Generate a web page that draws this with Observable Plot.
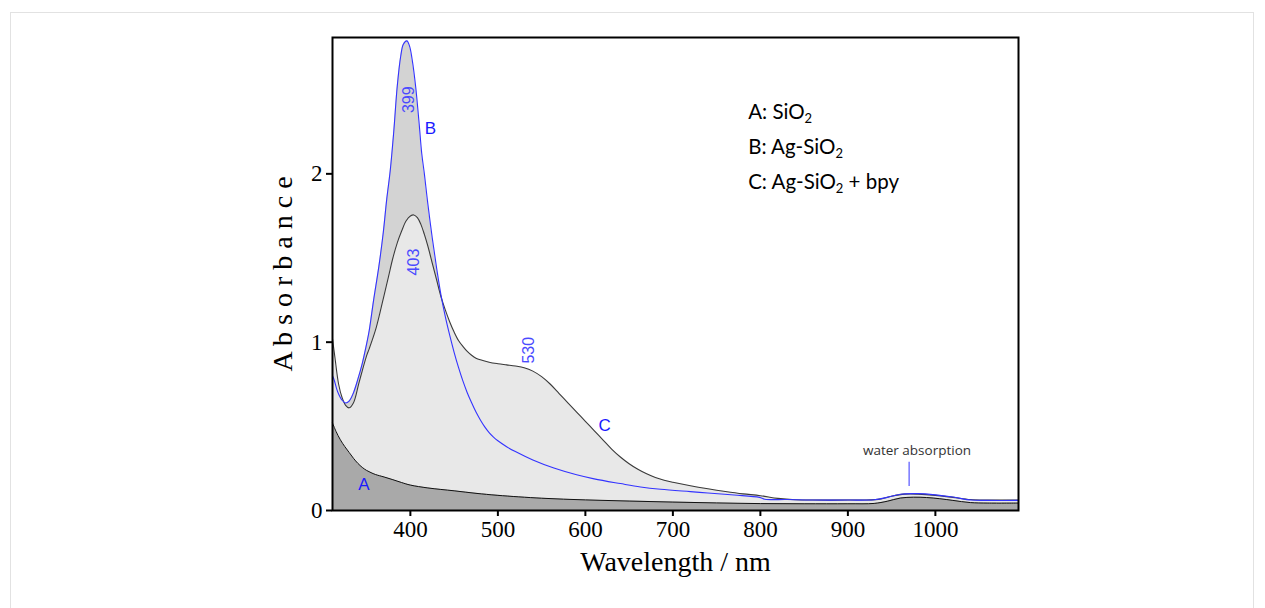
<!DOCTYPE html>
<html><head><meta charset="utf-8">
<script src="https://cdn.jsdelivr.net/npm/d3@7"></script>
<script src="https://cdn.jsdelivr.net/npm/@observablehq/plot@0.6"></script>
<style>
body{margin:0;background:#fff;}
#wrap{position:relative;width:1265px;height:608px;overflow:hidden;}
#border{position:absolute;left:10px;top:12px;width:1244px;height:700px;border:1px solid #e2e2e2;box-sizing:border-box;}
#chart{position:absolute;left:0;top:0;}
#chart g[aria-label="x-axis tick label"], #chart g[aria-label="y-axis tick label"]{font-size:23px;}
</style>
</head><body><div id="wrap"><div id="border"></div><div id="chart"></div></div>
<script>
// Series A: SiO2
const wlA  = [311,315,320,325,330,335,340,345,350,355,360,370,380,390,400,420,450,475,500,550,600,650,700,750,800,850,900,930,945,960,975,990,1005,1020,1040,1060,1095];
const absA = [0.52,0.47,0.42,0.38,0.345,0.31,0.28,0.256,0.238,0.225,0.214,0.199,0.183,0.166,0.151,0.134,0.117,0.102,0.09,0.073,0.063,0.056,0.05,0.045,0.041,0.04,0.04,0.042,0.055,0.074,0.079,0.077,0.07,0.06,0.047,0.044,0.044];
// Series B: Ag-SiO2
const wlB  = [311,313,317,322,326,330,335,340,345,350,353,358,364,369,373,377,381,385,389,392,396,399,402,406,410,413,416,420,425,430,435,440,445,450,455,460,465,470,475,480,485,490,495,500,510,520,540,564,590,610,640,663,686,720,740,770,799,805,830,860,900,930,945,960,980,1000,1020,1041,1060,1095];
const absB = [0.80,0.774,0.704,0.655,0.639,0.65,0.70,0.78,0.873,0.99,1.07,1.25,1.45,1.65,1.85,2.02,2.25,2.52,2.70,2.77,2.79,2.76,2.68,2.52,2.30,2.12,2.00,1.82,1.62,1.44,1.28,1.15,1.04,0.94,0.85,0.77,0.70,0.64,0.585,0.538,0.497,0.463,0.436,0.414,0.379,0.35,0.30,0.252,0.212,0.188,0.16,0.14,0.126,0.112,0.104,0.092,0.078,0.067,0.065,0.062,0.062,0.064,0.078,0.097,0.10,0.093,0.08,0.062,0.06,0.06];
// Series C: Ag-SiO2 + bpy
const wlC  = [311,314,318,322,326,330,335,341,345,350,353,360,365,370,375,380,385,390,395,400,404,408,412,416,420,425,430,435,440,445,450,455,460,465,470,475,480,490,500,510,520,530,540,550,560,570,580,590,600,610,620,630,640,650,660,670,680,690,700,720,740,760,780,800,820,840,860,900,935,950,965,980,1000,1020,1040,1060,1095];
const absC = [1.02,0.90,0.75,0.67,0.625,0.61,0.64,0.754,0.83,0.92,0.962,1.07,1.17,1.28,1.39,1.50,1.59,1.66,1.72,1.75,1.756,1.74,1.70,1.64,1.57,1.47,1.37,1.27,1.19,1.12,1.06,1.01,0.975,0.945,0.922,0.905,0.895,0.881,0.872,0.865,0.858,0.848,0.828,0.795,0.75,0.695,0.64,0.585,0.53,0.475,0.42,0.365,0.318,0.278,0.245,0.218,0.196,0.18,0.168,0.147,0.129,0.113,0.099,0.088,0.072,0.064,0.062,0.062,0.066,0.085,0.097,0.097,0.09,0.078,0.065,0.062,0.062];

const xTicks = [400,500,600,700,800,900,1000];
const yTicks = [0,1,2];

const seriesNames = ["A","B","C"];
const seriesLabelX = [347,423,622];
const seriesLabelY = [0.155,2.27,0.506];

const peakTexts = ["399","403","530"];
const peakX = [398,404,535];
const peakY = [2.44,1.476,0.952];

const legendTexts = ["A: SiO2","B: Ag-SiO2","C: Ag-SiO2 + bpy"];
const legendX = [786,786,786];
const legendY = [2.363,2.155,1.946];

const waterText = ["water absorption"];
const waterX = [979];
const waterY = [0.357];
const waterTickX = [970];
const waterTickY1 = [0.286];
const waterTickY2 = [0.143];

const tbl = (w, a) => w.map((x, i) => ({x, y: a[i]}));
const dA = tbl(wlA, absA), dB = tbl(wlB, absB), dC = tbl(wlC, absC);
const curve = "catmull-rom";

const plot = Plot.plot({
  width: 1265, height: 608,
  marginLeft: 332, marginRight: 247, marginTop: 37, marginBottom: 98,
  x: {domain: [311, 1095]},
  y: {domain: [0, 2.81]},
  style: {fontFamily: "'Liberation Serif', serif", fontSize: "23px", background: "transparent", color: "black"},
  marks: [
    Plot.areaY(dB, {x: "x", y: "y", fill: "#d3d3d3", curve}),
    Plot.areaY(dC, {x: "x", y: "y", fill: "#e8e8e8", curve}),
    Plot.areaY(dA, {x: "x", y: "y", fill: "#a9a9a9", curve}),
    Plot.lineY(dA, {x: "x", y: "y", stroke: "#111", strokeWidth: 1, curve}),
    Plot.lineY(dC, {x: "x", y: "y", stroke: "#3a3a3a", strokeWidth: 1.1, curve}),
    Plot.lineY(dB, {x: "x", y: "y", stroke: "#3333ff", strokeWidth: 1.1, curve}),
    Plot.axisX({ticks: xTicks, tickFormat: d => String(d), tickSize: 6, tickPadding: 4, strokeWidth: 2, label: null, fontSize: 23}),
    Plot.axisY({ticks: yTicks, tickFormat: d => String(d), tickSize: 6, tickPadding: 4, strokeWidth: 2, label: null, fontSize: 23}),
    Plot.frame({stroke: "black", strokeWidth: 2}),
    Plot.text(["Wavelength / nm"], {frameAnchor: "bottom", dy: 60, fontSize: 28}),
    Plot.text(["A b s o r b a n c e"], {frameAnchor: "left", textAnchor: "middle", rotate: -90, dx: -49, fontSize: 28}),
    Plot.text(seriesNames, {x: (d, i) => seriesLabelX[i], y: (d, i) => seriesLabelY[i], text: d => d, fill: "#1a1aff", fontSize: 17, fontFamily: "'Liberation Sans', sans-serif"}),
    Plot.text(peakTexts, {x: (d, i) => peakX[i], y: (d, i) => peakY[i], text: d => d, rotate: -90, fill: "#4a4aff", fontSize: 16, fontFamily: "'Liberation Sans', sans-serif"}),
    Plot.text(legendTexts, {x: (d, i) => legendX[i], y: (d, i) => legendY[i], text: d => d, textAnchor: "start", fill: "black", fontSize: 20.5, fontFamily: "Lato, 'Open Sans', sans-serif", className: "legendtxt"}),
    Plot.text(waterText, {x: (d, i) => waterX[i], y: (d, i) => waterY[i], text: d => d, fill: "#333", fontSize: 13.5, fontFamily: "'Open Sans', sans-serif"}),
    Plot.ruleX(waterTickX, {x: d => d, y1: (d, i) => waterTickY1[i], y2: (d, i) => waterTickY2[i], stroke: "#5555ff", strokeWidth: 1.2})
  ]
});
document.getElementById("chart").appendChild(plot);
// subscript 2 in legend
plot.querySelectorAll("g.legendtxt text").forEach(t => {
  const s = t.textContent;
  const k = s.indexOf("O2");
  if (k >= 0) {
    const before = s.slice(0, k + 1), after = s.slice(k + 2);
    t.textContent = "";
    const NS = "http://www.w3.org/2000/svg";
    const t1 = document.createElementNS(NS, "tspan"); t1.textContent = before; t.appendChild(t1);
    const t2 = document.createElementNS(NS, "tspan"); t2.textContent = "2"; t2.setAttribute("dy", "4"); t2.setAttribute("font-size", "13"); t.appendChild(t2);
    if (after) { const t3 = document.createElementNS(NS, "tspan"); t3.textContent = after; t3.setAttribute("dy", "-4"); t.appendChild(t3); }
  }
});
</script>
</body></html>
